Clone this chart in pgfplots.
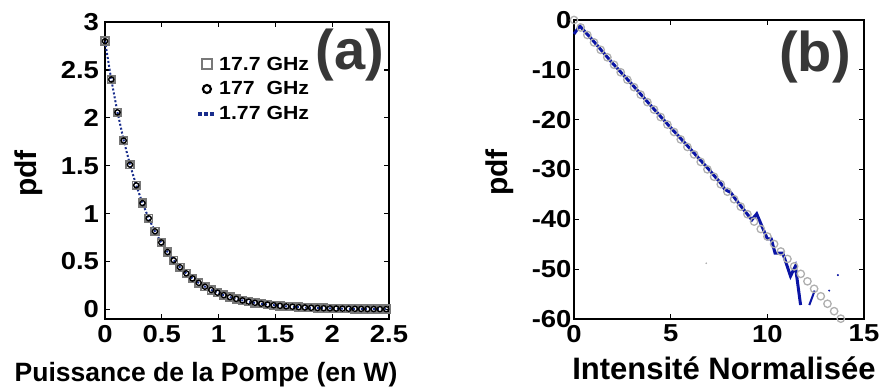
\documentclass[border=0pt]{standalone}
\usepackage{pgfplots}
\pgfplotsset{compat=1.18}
\usepackage{fontspec}
\setmainfont{Liberation Sans}
\newfontfamily\widefont{Liberation Sans}[FakeStretch=1.12]
\definecolor{navyA}{RGB}{25,45,140}
\definecolor{navyB}{RGB}{10,20,165}
\definecolor{grayC}{RGB}{175,175,175}
\definecolor{sqgray}{RGB}{120,120,120}
\definecolor{labgray}{RGB}{55,55,55}

\pgfplotstableread{
x y
0 2.800
0.055 2.400
0.11 2.057
0.165 1.763
0.22 1.511
0.275 1.295
0.33 1.110
0.385 0.951
0.44 0.815
0.495 0.699
0.55 0.599
0.605 0.513
0.66 0.440
0.715 0.377
0.77 0.323
0.825 0.277
0.88 0.237
0.935 0.203
0.99 0.174
1.045 0.149
1.10 0.128
1.155 0.110
1.21 0.094
1.265 0.081
1.32 0.069
1.375 0.059
1.43 0.051
1.485 0.044
1.54 0.037
1.595 0.032
1.65 0.028
1.705 0.024
1.76 0.020
1.815 0.017
1.87 0.015
1.925 0.013
1.98 0.011
2.035 0.009
2.09 0.008
2.145 0.007
2.20 0.006
2.255 0.005
2.31 0.004
2.365 0.004
2.42 0.003
2.475 0.003
}\pdfA

\pgfplotstableread{
x y
0 0
0.345 -1.50
0.69 -3.00
1.035 -4.49
1.38 -5.99
1.725 -7.49
2.07 -8.99
2.415 -10.49
2.76 -11.99
3.105 -13.48
3.45 -14.98
3.795 -16.48
4.14 -17.98
4.485 -19.48
4.83 -20.98
5.175 -22.47
5.52 -23.97
5.865 -25.47
6.21 -26.97
6.555 -28.47
6.9 -29.97
7.245 -31.46
7.59 -32.96
7.935 -34.46
8.28 -35.96
8.625 -37.46
8.97 -38.96
9.315 -40.45
9.66 -41.95
10.005 -43.45
10.35 -44.95
10.695 -46.45
11.04 -47.95
11.385 -49.44
11.73 -50.94
12.075 -52.44
12.42 -53.94
12.765 -55.44
13.11 -56.94
13.455 -58.43
13.8 -59.93
}\theoB

\pgfplotstableread{
x y
0 -2.8
0.3 -1.2
1 -4.2
2 -8.7
3 -12.9
4 -17.3
5 -21.6
6 -25.8
7 -30.1
7.6 -32.8
7.8 -34.0
8.1 -34.6
8.5 -36.7
9.2 -40.1
9.45 -38.9
9.8 -42.1
10.0 -43.9
10.2 -43.9
10.4 -46.8
10.8 -46.8
11.2 -51.4
11.45 -49.4
11.72 -57.2
}\expB

\begin{document}
\begin{tikzpicture}
\useasboundingbox (0pt,0pt) rectangle (881pt,389pt);
\pgfplotsset{
  myax/.style={
    scale only axis,
    tick align=inside,
    major tick length=5pt,
    tick style={black, line width=1.2pt},
    axis line style={black, line width=1.8pt},
    /pgf/number format/assume math mode=true,
    tick label style={font=\widefont\fontsize{24.5}{28}\selectfont\bfseries},
  }
}
\begin{axis}[myax,
  at={(105pt,70pt)}, anchor=south west,
  width=284pt, height=297pt,
  xmin=0, xmax=2.5, ymin=-0.1, ymax=3,
  xtick={0,0.5,1,1.5,2,2.5},
  ytick={0,0.5,1,1.5,2,2.5,3},
  yticklabel style={xshift=-2.5pt},
  xticklabel style={yshift=-3pt},
  xlabel={Puissance de la Pompe (en W)},
  xlabel style={at={(axis description cs:0.356,-0.209)}, anchor=base, font=\fontsize{26.5}{30}\selectfont\bfseries},
  ylabel={pdf},
  ylabel style={at={(axis description cs:-0.268,0.49)}, anchor=center, font=\fontsize{30}{34}\selectfont\bfseries},
  legend style={draw=none, fill=none, at={(0.322,0.89)}, anchor=north west,
    font=\widefont\fontsize{19}{22}\selectfont\bfseries, row sep=6pt, inner sep=0pt},
  legend cell align=left,
]
\addlegendimage{only marks, mark=square, mark size=4.8pt, sqgray, line width=2pt}
\addlegendentry{17.7 GHz}
\addlegendimage{only marks, mark=o, mark size=4pt, black, line width=2.2pt}
\addlegendentry{177\ \ GHz}
\addlegendimage{navyA, line width=3.5pt, dash pattern=on 3.5pt off 2.5pt}
\addlegendentry{1.77 GHz}
\addplot[forget plot, only marks, mark=square, mark size=3.8pt, sqgray, line width=1.8pt] table {\pdfA};
\addplot[forget plot, only marks, mark=o, mark size=2.6pt, black, line width=1.4pt] table {\pdfA};
\addplot[forget plot, navyA, line width=2pt, dash pattern=on 2pt off 2pt] table {\pdfA};
\end{axis}
\node[labgray, font=\fontsize{56}{60}\selectfont\bfseries] at (350pt,334pt) {(a)};

\begin{axis}[myax,
  at={(574pt,70pt)}, anchor=south west,
  width=290pt, height=299pt,
  xmin=0, xmax=15, ymin=-60, ymax=0,
  xtick={0,5,10,15},
  ytick={-60,-50,-40,-30,-20,-10,0},
  yticklabel style={xshift=1pt},
  xticklabel style={yshift=-2.5pt},
  xlabel={Intensité Normalisée},
  xlabel style={at={(axis description cs:0.517,-0.204)}, anchor=base, font=\fontsize{31}{34}\selectfont\bfseries},
  ylabel={pdf},
  ylabel style={at={(axis description cs:-0.255,0.49)}, anchor=center, font=\fontsize{30}{34}\selectfont\bfseries},
  clip=false,
]
\addplot[only marks, mark=o, mark size=3.7pt, grayC, line width=1.3pt] table {\theoB};
\addplot[navyB, line width=3pt] table {\expB};
\addplot[navyB, line width=2pt] coordinates {(12.17,-57.2) (12.45,-54.3)};
\addplot[only marks, navyB, mark=*, mark size=0.8pt] coordinates {(13.2,-54.3) (13.65,-51.2)};
\addplot[only marks, grayC, mark=*, mark size=0.6pt] coordinates {(6.84,-48.8)};
\end{axis}
\node[labgray, font=\fontsize{56}{60}\selectfont\bfseries] at (815pt,332pt) {(b)};
\end{tikzpicture}
\end{document}
